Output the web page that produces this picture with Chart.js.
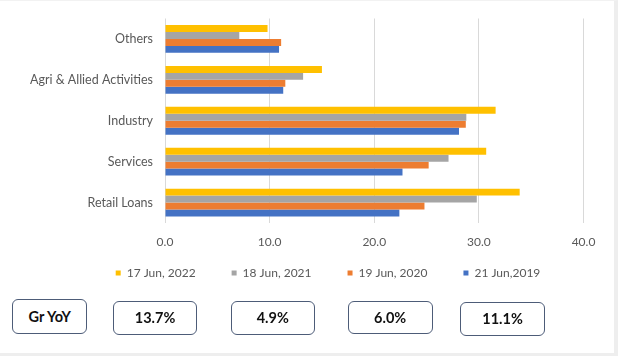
<!DOCTYPE html>
<html>
<head>
<meta charset="utf-8">
<script src="https://cdn.jsdelivr.net/npm/chart.js@4/dist/chart.umd.min.js"></script>
<style>
  html, body { margin: 0; padding: 0; background: #ffffff; }
  body { width: 618px; height: 356px; position: relative; overflow: hidden; font-family: Lato, "Open Sans", sans-serif; }
  #frame { position: absolute; left: 0; top: 0; width: 614px; height: 352px; background: #fff;
           border-right: 4px solid #eeeeee; border-bottom: 4px solid #eeeeee; border-top: 1px solid #f2f2f2; box-sizing: content-box; }
  #wrap { position: absolute; left: 0; top: 0; width: 618px; height: 310px; }
  .gbox { position: absolute; box-sizing: border-box; border: 1.5px solid #4d5c78; border-radius: 6px;
          display: flex; align-items: center; justify-content: center;
          font-family: Lato, "Open Sans", sans-serif; font-weight: 700; font-size: 14.5px; color: #111; background: #fff; }
</style>
</head>
<body>
<div id="frame"></div>
<div id="wrap"><canvas id="c"></canvas></div>
<div id="growth"></div>
<script>
const categories = ['Others', 'Agri & Allied Activities', 'Industry', 'Services', 'Retail Loans'];
const seriesNames = ['17 Jun, 2022', '18 Jun, 2021', '19 Jun, 2020', '21 Jun,2019'];
const values2022 = [9.8, 15.0, 31.6, 30.7, 33.9];
const values2021 = [7.1, 13.2, 28.8, 27.1, 29.8];
const values2020 = [11.1, 11.5, 28.75, 25.2, 24.8];
const values2019 = [10.9, 11.3, 28.1, 22.7, 22.4];
const xMin = 0, xMax = 40, xStep = 10;
const growthTitle = 'Gr YoY';
const growthValues = ['13.7%', '4.9%', '6.0%', '11.1%'];

const colors = ['#FFC000', '#A5A5A5', '#ED7D31', '#4472C4'];
const seriesValues = [values2022, values2021, values2020, values2019];
const fontFam = 'Lato, "Open Sans", sans-serif';

// shift the legend to where the reference places it
const legendShift = {
  id: 'legendShift',
  afterLayout(chart) {
    const lg = chart.legend;
    if (!lg) return;
    const targetCenterX = 328, targetTextY = 273;
    const dx = targetCenterX - (lg.left + lg.right) / 2;
    const textY = lg.top + lg.options.labels.padding + lg.options.labels.font.size / 2;
    const dy = targetTextY - textY;
    lg.left += dx; lg.right += dx; lg.top += dy; lg.bottom += dy;
  }
};

const chart = new Chart(document.getElementById('c'), {
  type: 'bar',
  data: {
    labels: categories,
    datasets: seriesNames.map((n, i) => ({
      label: n,
      data: seriesValues[i],
      backgroundColor: colors[i],
      borderWidth: 0,
      barPercentage: 1.0,
      categoryPercentage: 0.68
    }))
  },
  options: {
    indexAxis: 'y',
    responsive: true,
    maintainAspectRatio: false,
    animation: false,
    devicePixelRatio: 1,
    layout: { padding: { left: 0, right: 34.5, top: 18.5, bottom: 3 } },
    scales: {
      x: {
        min: xMin, max: xMax,
        ticks: { stepSize: xStep, padding: 11.5, color: '#595959',
                 font: { family: fontFam, size: 12 },
                 callback: v => Number(v).toFixed(1) },
        grid: { color: '#d9d9d9', drawTicks: false, lineWidth: 1 },
        border: { display: false },
        afterFit: s => { s.height = 26; }
      },
      y: {
        grid: { display: false },
        border: { display: false },
        ticks: { padding: 4, color: '#595959', font: { family: fontFam, size: 12.5 } },
        afterFit: s => { s.width = 165; }
      }
    },
    plugins: {
      legend: {
        position: 'bottom',
        labels: { boxWidth: 5, boxHeight: 5, padding: 36, color: '#595959',
                  font: { family: fontFam, size: 12 } }
      },
      tooltip: { enabled: false }
    }
  },
  plugins: [legendShift]
});

const boxes = [
  { text: growthTitle, left: 11.8, top: 299, w: 75.7, h: 34.5 },
  { text: growthValues[0], left: 113, top: 300.5, w: 84, h: 34.5 },
  { text: growthValues[1], left: 230.6, top: 300.5, w: 84.4, h: 34.5 },
  { text: growthValues[2], left: 347.7, top: 300.8, w: 85, h: 33.7 },
  { text: growthValues[3], left: 460, top: 301.8, w: 85, h: 34.2 }
];
const g = document.getElementById('growth');
boxes.forEach(b => {
  const d = document.createElement('div');
  d.className = 'gbox';
  d.textContent = b.text;
  d.style.left = b.left + 'px'; d.style.top = b.top + 'px';
  d.style.width = b.w + 'px'; d.style.height = b.h + 'px';
  g.appendChild(d);
});
</script>
</body>
</html>
